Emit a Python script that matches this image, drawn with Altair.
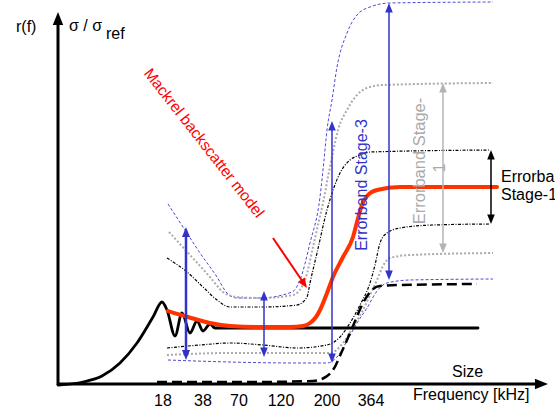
import math
import altair as alt
import pandas as pd

W, H = 555, 414
FONT = "Liberation Sans"

# ---------------- data (read from the picture; y measured downward from top) ----------------
# fish backscatter r(f) (solid black)
black_x = [58, 83, 102, 120, 137, 153, 162, 167, 175, 182, 190, 197, 203, 210, 215, 225, 478]
black_y = [385, 382, 376, 363, 343, 317, 302, 310, 336, 313, 333, 321, 331, 324, 328, 328, 328]

# Mackrel backscatter model (red)
red_x = [168, 188, 210, 230, 260, 290, 303, 310, 316, 320, 327, 333, 343, 353, 357, 362, 367, 377, 400, 497]
red_y = [311, 317, 323, 326, 327, 327, 326, 323, 317, 310, 293, 277, 257, 237, 222, 205, 196, 190, 187, 187]

# Size curve (thick dashed)
size_x = [157, 250, 313, 322, 333, 343, 353, 363, 373, 380, 400, 477]
size_y = [382, 382, 381, 379, 370, 349, 326, 303, 289, 286, 285, 284]

# Errorband stage-1 (black dash-dot)
s1u_x = [167, 187, 203, 217, 230, 263, 297, 307, 310, 317, 327, 340, 350, 360, 370, 490]
s1u_y = [258, 272, 287, 300, 307, 307, 305, 297, 283, 253, 210, 173, 160, 155, 152, 150]
s1l_x = [167, 200, 230, 263, 297, 327, 340, 350, 360, 370, 375, 380, 387, 400, 433, 490]
s1l_y = [348, 345, 343, 345, 348, 345, 337, 323, 305, 283, 265, 243, 233, 228, 225, 224]

# Errorband stage-2 (grey dotted)
s2u_x = [169, 190, 210, 223, 237, 263, 293, 305, 313, 318, 323, 328, 333, 338, 347, 357, 367, 383, 493]
s2u_y = [232, 255, 277, 292, 297, 298, 295, 280, 247, 225, 203, 177, 152, 130, 110, 95, 88, 85, 83]
s2l_x = [167, 230, 297, 330, 343, 353, 363, 370, 377, 383, 390, 410, 493]
s2l_y = [355, 353, 353, 353, 343, 327, 310, 295, 280, 266, 258, 255, 253]

# Errorband stage-3 (blue dashed)
s3u_x = [168, 183, 200, 217, 227, 237, 260, 292, 300, 310, 320, 324, 327, 332, 337, 347, 357, 370, 390, 493]
s3u_y = [204, 227, 253, 277, 293, 298, 298, 292, 280, 243, 197, 160, 130, 100, 67, 33, 15, 7, 3, 2]
s3l_x = [168, 230, 297, 327, 337, 347, 357, 367, 377, 387, 410, 493]
s3l_y = [360, 362, 363, 363, 357, 341, 323, 308, 291, 283, 280, 279]

# frequency tick labels
tick_labels = ["18", "38", "70", "120", "200", "364"]
tick_pos = [163, 203, 239, 281, 327, 371]

# arrows: x1, y1, x2, y2, colour, width, head at start, head at end, head size
arrows = [
    (58, 385, 58, 12, "#000000", 3.0, False, True, 170),      # y axis
    (58, 384, 548, 384, "#000000", 3.0, False, True, 170),    # x axis
    (186, 227, 186, 360, "#3333cc", 2.5, True, True, 100),
    (264, 291, 264, 357, "#3333cc", 1.5, True, True, 90),
    (332, 121, 332, 363, "#3333cc", 1.5, True, True, 90),
    (389, 3, 389, 280, "#3333cc", 1.5, True, True, 90),
    (443, 83, 443, 253, "#b4b4b4", 1.5, True, True, 90),
    (491, 150, 491, 224, "#000000", 1.5, True, True, 90),
    (273, 238, 307, 288, "#ff0000", 2.0, False, True, 100),   # model pointer
]

# ---------------- scales ----------------
XS = alt.Scale(domain=[0, W], nice=False, zero=False)
YS = alt.Scale(domain=[H, 0], nice=False, zero=False)


def X(f="x"):
    return alt.X(f"{f}:Q", scale=XS, axis=None)


def Y(f="y"):
    return alt.Y(f"{f}:Q", scale=YS, axis=None)


def line_layer(xs, ys, color, width, dash=None, cap="butt"):
    df = pd.DataFrame({"x": xs, "y": ys, "o": list(range(len(xs)))})
    kw = dict(color=color, strokeWidth=width, interpolate="monotone", strokeCap=cap)
    if dash:
        kw["strokeDash"] = dash
    return alt.Chart(df).mark_line(**kw).encode(x=X(), y=Y(), order="o:Q")


# ---------------- arrows ----------------
rules, heads = [], []
for x1, y1, x2, y2, c, w, hs, he, s in arrows:
    L = math.hypot(x2 - x1, y2 - y1)
    ux, uy = (x2 - x1) / L, (y2 - y1) / L
    hl = math.sqrt(s)
    sx, sy, ex, ey = x1, y1, x2, y2
    if hs:
        sx, sy = x1 + ux * hl * 0.6, y1 + uy * hl * 0.6
        heads.append({"x": x1, "y": y1, "a": math.degrees(math.atan2(-ux, uy)) % 360, "c": c, "s": s})
    if he:
        ex, ey = x2 - ux * hl * 0.6, y2 - uy * hl * 0.6
        heads.append({"x": x2, "y": y2, "a": math.degrees(math.atan2(ux, -uy)) % 360, "c": c, "s": s})
    rules.append({"x": sx, "y": sy, "x2": ex, "y2": ey, "c": c, "w": w})

rule_layer = alt.Chart(pd.DataFrame(rules)).mark_rule(strokeCap="butt").encode(
    x=X(), y=Y(), x2="x2:Q", y2="y2:Q",
    color=alt.Color("c:N", scale=None),
    strokeWidth=alt.StrokeWidth("w:Q", scale=None),
)
head_layer = alt.Chart(pd.DataFrame(heads)).mark_point(
    shape="M0,0L-0.8,2L0.8,2Z", filled=True, opacity=1, strokeWidth=0
).encode(
    x=X(), y=Y(),
    angle=alt.Angle("a:Q", scale=None),
    color=alt.Color("c:N", scale=None),
    size=alt.Size("s:Q", scale=None),
)


# ---------------- texts ----------------
def text_layer(xs, ys, texts, color="#000000", size=16, angle=0, align="left", baseline="alphabetic"):
    df = pd.DataFrame({"x": xs, "y": ys, "t": texts})
    kw = dict(font=FONT, fontSize=size, color=color, align=align, baseline=baseline)
    if angle:
        kw["angle"] = angle
    return alt.Chart(df).mark_text(**kw).encode(x=X(), y=Y(), text="t:N")


texts = [
    text_layer([16], [32], ["r(f)"]),
    text_layer([69], [31], ["σ / σ"]),
    text_layer([106], [39], ["ref"]),
    text_layer([204], [143], ["Mackrel backscatter model"], color="#ff0000", size=15.5,
               angle=52, align="center", baseline="middle"),
    text_layer([362], [185], ["Errorband Stage-3"], color="#3333cc", size=16,
               angle=270, align="center", baseline="middle"),
    text_layer([420], [161], ["Errorband Stage-"], color="#aaaaaa", size=16.5,
               angle=270, align="center", baseline="middle"),
    text_layer([440], [168], ["1"], color="#aaaaaa", size=16.5,
               angle=270, align="center", baseline="middle"),
    text_layer([501, 501], [182, 200], ["Errorbar", "Stage-1"]),
    text_layer([452], [377], ["Size"]),
    text_layer([413], [400], ["Frequency [kHz]"]),
    text_layer(tick_pos, [406] * len(tick_pos), tick_labels, align="center"),
]

layers = [
    line_layer(s3u_x, s3u_y, "#4a4ad8", 1, [3, 2]),
    line_layer(s3l_x, s3l_y, "#4a4ad8", 1, [3, 2]),
    line_layer(s2u_x, s2u_y, "#aaaaaa", 2, [2, 2]),
    line_layer(s2l_x, s2l_y, "#aaaaaa", 2, [2, 2]),
    line_layer(s1u_x, s1u_y, "#000000", 1.2, [3, 1.5, 1, 1.5]),
    line_layer(s1l_x, s1l_y, "#000000", 1.2, [3, 1.5, 1, 1.5]),
    line_layer(black_x, black_y, "#000000", 2.8, cap="round"),
    line_layer(size_x, size_y, "#000000", 2.5, [10, 5]),
    line_layer(red_x, red_y, "#ff3300", 4, cap="round"),
    rule_layer,
    head_layer,
] + texts

chart = alt.layer(*layers).properties(
    width=W, height=H, autosize=alt.AutoSizeParams(type="none"), padding=0
).configure_view(stroke=None)

chart.save("out.html", embed_options={"renderer": "svg", "actions": False})
